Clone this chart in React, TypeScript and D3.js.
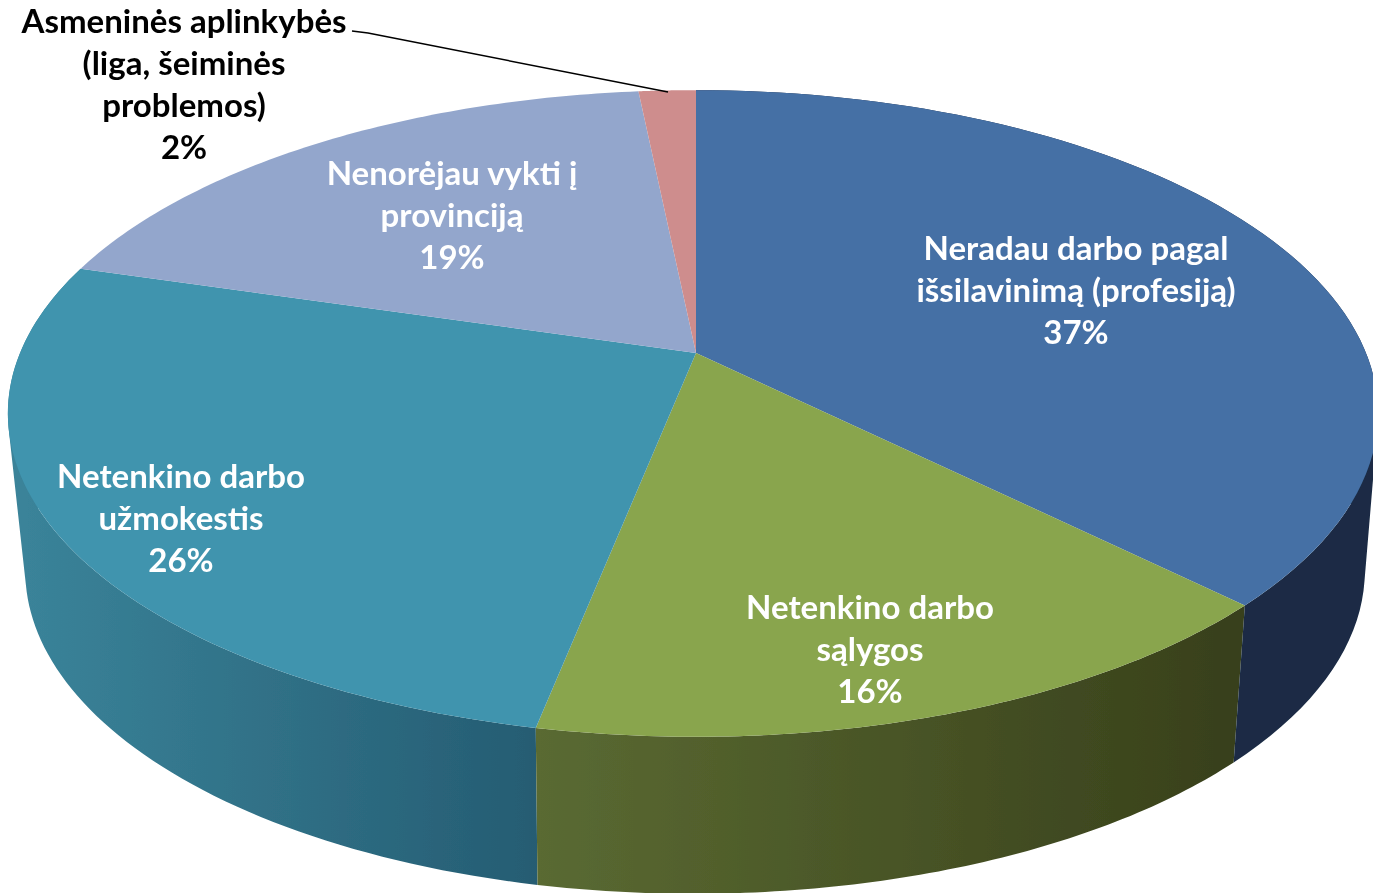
import React from "react";
import * as d3 from "d3";

const categories = ["Neradau darbo pagal išsilavinimą (profesiją)", "Netenkino darbo sąlygos", "Netenkino darbo užmokestis", "Nenorėjau vykti į provinciją", "Asmeninės aplinkybės (liga, šeiminės problemos)"];
const values = [37.4, 15.7, 26.49, 18.8, 1.61];
const percentLabels = ["37%", "16%", "26%", "19%", "2%"];
const labelLines = [
  ["Neradau darbo pagal", "išsilavinimą (profesiją)"],
  ["Netenkino darbo", "sąlygos"],
  ["Netenkino darbo", "užmokestis"],
  ["Nenorėjau vykti į", "provinciją"],
  ["Asmeninės aplinkybės", "(liga, šeiminės", "problemos)"],
];
const topColors = ["#456fa5", "#89a54e", "#4094ae", "#93a6cc", "#ce8d8d"];
const wallStops = [
  ["#1a2c44", "#1a2c44"],
  ["#5a6a32", "#38401b"],
  ["#3a8399", "#255c72"],
];
const labelAnchors: [number, number][] = [[1076, 260], [870, 619], [181, 488], [452, 185], [184, 33]];
const labelColors = ["#fff", "#fff", "#fff", "#fff", "#000"];

const K = 0.187;
const project = (a: number, leftA: number, rightA: number, ox: number, oy: number): [number, number] => {
  const u = Math.sin(a), v = -Math.cos(a), w = 1 - K * v;
  return [696 + ox + (u < 0 ? leftA : rightA) * u / w, 353 + oy + 312 * v / w];
};
const top = (a: number) => project(a, 676, 670, 0, 0);
const low = (a: number) => project(a, 656, 660, -3, 157);

export default function App() {
  const arcs = d3.pie<number>().sort(null)(values);
  const line = d3.line();
  const sample = (s: number, e: number) => d3.range(0, 81).map(i => s + (e - s) * i / 80);
  const wallRange = [[1232, 1373], [536, 1232], [25, 540]];
  return (
    <svg width={1373} height={893} style={{ position: "fixed", left: 0, top: 0 }}>
      <defs>
        {wallStops.map((stops, i) => (
          <linearGradient key={i} id={`w${i}`} gradientUnits="userSpaceOnUse" x1={wallRange[i][0]} x2={wallRange[i][1]} y1={0} y2={0}>
            <stop offset={0} stopColor={stops[0]} />
            <stop offset={1} stopColor={stops[1]} />
          </linearGradient>
        ))}
        <filter id="soft" filterUnits="userSpaceOnUse" x={-20} y={-20} width={1420} height={940}>
          <feGaussianBlur stdDeviation={0.55} />
        </filter>
      </defs>
      <g filter="url(#soft)">
        {[2, 1, 0].map(i => {
          const as = sample(arcs[i].startAngle, arcs[i].endAngle);
          const d = as.slice(1).map((a, j) => {
            const p = as[j];
            const quad: [number, number][] = [top(p), top(a), low(a), low(p)];
            // Every quad gets the same winding, so overlaps at the silhouette do not cancel out.
            if (d3.polygonArea(quad) < 0) quad.reverse();
            return line(quad) + "Z";
          }).join("");
          return <path key={i} d={d} fill={`url(#w${i})`} />;
        })}
        {arcs.map((arc, i) => (
          <path key={i} d={line([[696, 353], ...sample(arc.startAngle, arc.endAngle).map(top)])! + "Z"} fill={topColors[i]} />
        ))}
        <path d={line([[352, 31], [368, 33], [668, 92]])!} fill="none" stroke="#000" strokeWidth={1.5} />
        {categories.map((c, i) => (
          <text key={c} textAnchor="middle" fontFamily="Lato" fontWeight={700} fontSize={33} fill={labelColors[i]}>
            {[...labelLines[i], percentLabels[i]].map((t, j) => (
              <tspan key={j} x={labelAnchors[i][0]} y={labelAnchors[i][1] + j * 42}>{t}</tspan>
            ))}
          </text>
        ))}
      </g>
    </svg>
  );
}
